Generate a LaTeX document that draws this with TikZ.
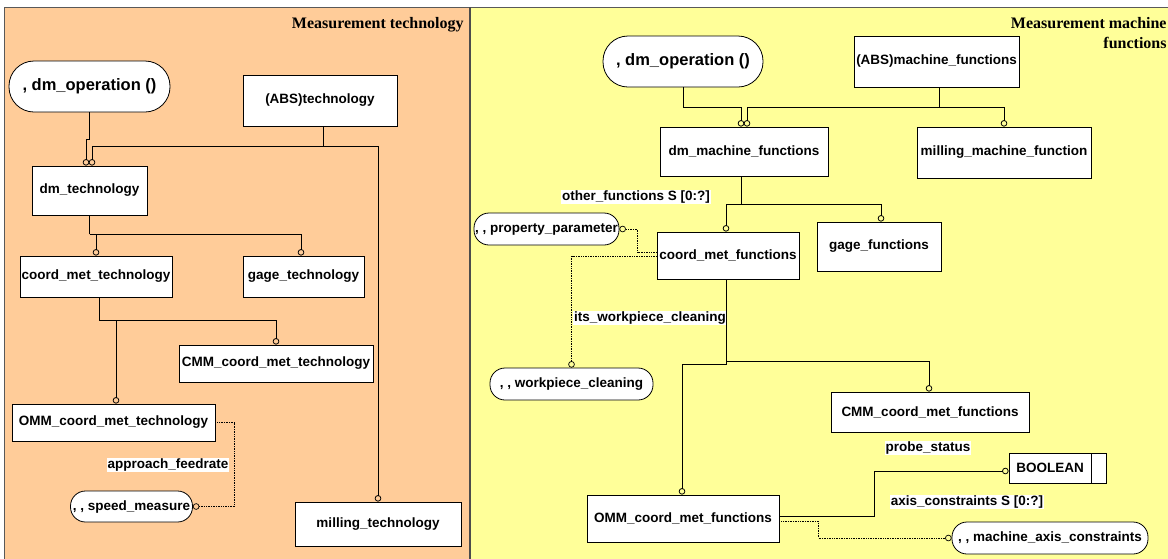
\documentclass[tikz,border=0pt]{standalone}
\usepackage{fontspec}
\setmainfont{Liberation Sans}
\newfontfamily\titleserif{Liberation Serif}
\usepackage{tikz}
\usetikzlibrary{arrows.meta}
\usepackage{xcolor}
\definecolor{techorange}{RGB}{255,204,153}
\definecolor{machyellow}{RGB}{255,255,153}

\begin{document}
\begin{tikzpicture}[
  x=1pt,y=-1pt,
  line width=0.8pt,
  every node/.style={font=\fontsize{13.5}{16}\selectfont\bfseries},
  entity/.style={draw=black,fill=white,inner sep=1pt},
  pill/.style={entity,rounded corners=#1},
  pill/.default=15pt,
  dims/.style 2 args={minimum width=#1pt,minimum height=#2pt},
  bigtext/.style={font=\fontsize{16.5}{19}\selectfont\bfseries},
  role/.style={fill=white,inner sep=1pt},
  heading/.style={font=\titleserif\fontsize{16}{20}\selectfont\bfseries,
    inner sep=0pt,align=right,anchor=north east},
  optional/.style={-{Circle[open,length=6.5pt,width=6.5pt]}},
  aux/.style={densely dotted,line width=0.7pt}
]
  \useasboundingbox (0,0) rectangle (1168,558);
  \clip (0,0) rectangle (1168,558);

  % The two schema panels.
  \fill[white] (0,0) rectangle (1168,558);
  \draw[draw=black!65,fill=techorange] (4,7) rectangle (470,600);
  \draw[draw=black!65,fill=machyellow] (470,7) rectangle (1200,600);
  \draw[black!70,line width=2.4pt] (470,7) -- (470,560);
  \node[heading] (techtitle) at (464,16.5) {Measurement technology};
  \node[heading] (machtitle) at (1167,16.5) {Measurement machine\\functions};

  % Measurement technology entities.
  \node[pill=25pt,bigtext,dims={161}{51}] (techop) at (89.5,86.5) {, dm\_operation ()};
  \node[entity,dims={154}{51}] (abstech) at (320,100.5) {(ABS)technology};
  \node[entity,dims={115}{49}] (dmtech) at (89.5,190.5) {dm\_technology};
  \node[entity,dims={152}{41}] (coordtech) at (96,276.5) {coord\_met\_technology};
  \node[entity,dims={121}{41}] (gagetech) at (303.5,276.5) {gage\_technology};
  \node[entity,dims={194}{37}] (cmmtech) at (276,363.5) {CMM\_coord\_met\_technology};
  \node[entity,dims={203}{37}] (ommtech) at (113.5,422.5) {OMM\_coord\_met\_technology};
  \node[pill,dims={122}{31}] (speed) at (131.5,506.5) {, , speed\_measure};
  \node[entity,dims={166}{44}] (milltech) at (378,524) {milling\_technology};
  \node[role] (feedrate) at (168,465) {approach\_feedrate};

  % Subtype trees on the left.
  \draw[optional] (techop.south) -- ++(0,27) -| ([xshift=-3.5pt]dmtech.north);
  \coordinate (techfork) at (323,146);
  \draw (abstech.south -| techfork) -- (techfork);
  \draw[optional] (techfork) -| ([xshift=2.5pt]dmtech.north);
  \draw[optional] (techfork) -| (milltech.north);
  \coordinate (dmfork) at (89.5,234);
  \draw (dmtech.south) -- (dmfork);
  \draw[optional] (dmfork) -| ([xshift=-2.5pt]gagetech.north);
  \draw[optional] (dmfork) -| (coordtech.north);
  \coordinate (coordfork) at (99,320);
  \draw (coordtech.south -| coordfork) -- (coordfork);
  \draw[optional] (coordfork) -| (cmmtech.north);
  \draw[optional] (coordfork) -| ([xshift=2.5pt]ommtech.north);
  \draw[aux,optional] (ommtech.east) -- ++(19,0) |- (speed.east);

  % Measurement machine functions entities.
  \node[pill=25pt,bigtext,dims={160}{51}] (machop) at (683,61.5) {, dm\_operation ()};
  \node[entity,dims={165}{51}] (absmach) at (936.5,61.5) {(ABS)machine\_functions};
  \node[entity,dims={168}{49}] (dmmach) at (744,151.5) {dm\_machine\_functions};
  \node[entity,dims={174}{51}] (millmach) at (1004,152.5) {milling\_machine\_function};
  \node[role] (otherrole) at (636,197) {other\_functions S [0:?]};
  \node[pill,dims={145}{32}] (proppar) at (546.5,229) {, , property\_parameter};
  \node[entity,dims={142}{47}] (coordmet) at (728,255.5) {coord\_met\_functions};
  \node[entity,dims={124}{49}] (gagefn) at (879,246.5) {gage\_functions};
  \node[role] (cleaningrole) at (650,318) {its\_workpiece\_cleaning};
  \node[pill,dims={163}{32}] (cleaning) at (571.5,384) {, , workpiece\_cleaning};
  \node[entity,dims={198}{40}] (cmmfn) at (930,412) {CMM\_coord\_met\_functions};
  \node[role] (proberole) at (928,448) {probe\_status};
  \node[entity,dims={82}{30}] (boolean) at (1050,468) {BOOLEAN};
  \node[entity,dims={15}{30},anchor=west] (booleanend) at (boolean.east) {};
  \node[role] (axisrole) at (967,502) {axis\_constraints S [0:?]};
  \node[entity,dims={192}{47}] (ommfn) at (683,518.5) {OMM\_coord\_met\_functions};
  \node[pill,dims={196}{32}] (machaxis) at (1050,538) {, , machine\_axis\_constraints};

  % Subtype trees and attributes on the right.
  \draw[optional] (machop.south) -- ++(0,20) -| ([xshift=-3pt]dmmach.north);
  \coordinate (machfork) at (939,107);
  \draw (absmach.south -| machfork) -- (machfork);
  \draw[optional] (machfork) -| ([xshift=3pt]dmmach.north);
  \draw[optional] (machfork) -| (millmach.north);
  \coordinate (dmmachfork) at (741,204);
  \draw ([xshift=-3pt]dmmach.south) -- (dmmachfork);
  \draw[optional] (dmmachfork) -| ([xshift=-2pt]coordmet.north);
  \draw[optional] (dmmachfork) -| ([xshift=2pt]gagefn.north);
  \coordinate (coordmetfork) at (726,361);
  \draw[optional] ([xshift=-2pt]coordmet.south) -- ++(0,85) -| ([xshift=-1pt]ommfn.north);
  \draw[optional] (coordmetfork) -| ([xshift=-1pt]cmmfn.north);
  \draw[aux,optional] ([yshift=3.5pt]coordmet.west) -- ++(-19,0) |- (proppar.east);
  \draw[aux,optional] ([yshift=-0.5pt]coordmet.west) -| (cleaning.north);
  \draw[optional] ([yshift=2.5pt]ommfn.east) -- ++(95,0) |- ([yshift=-3pt]boolean.west);
  \draw[aux,optional] ([yshift=-2.5pt]ommfn.east) -- ++(39,0) |- (machaxis.west);
\end{tikzpicture}
\end{document}
